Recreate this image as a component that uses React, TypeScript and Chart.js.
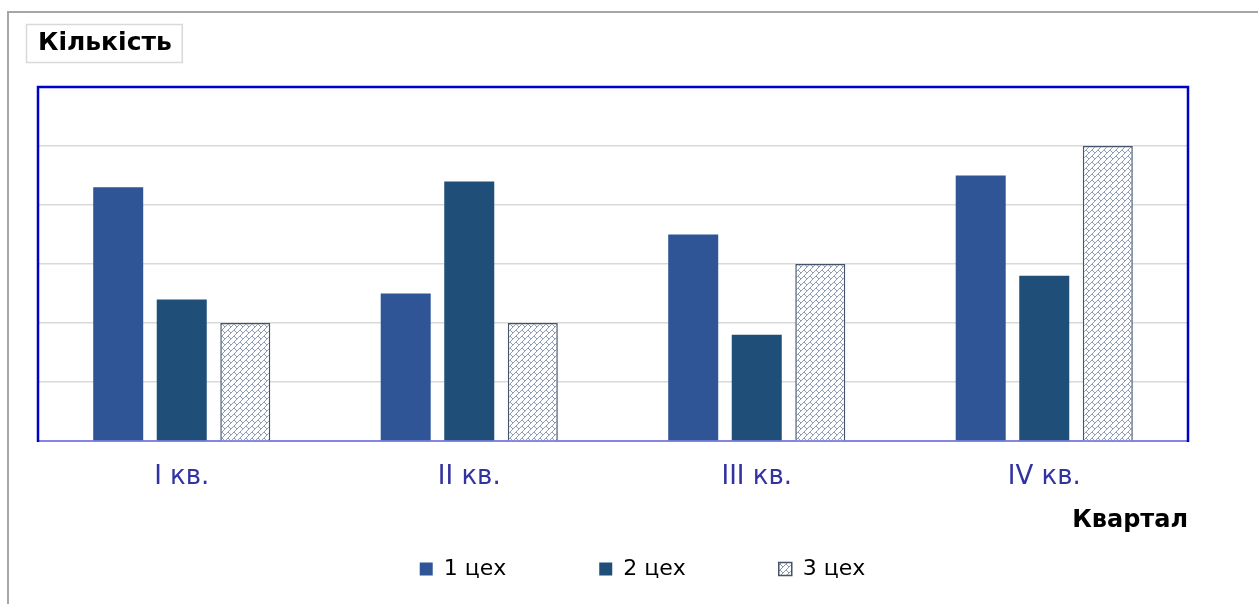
import React, { useEffect, useRef } from "react";
import { Chart, registerables } from "chart.js";

Chart.register(...registerables);

// ---- data ----
const categories = ["I кв.", "II кв.", "III кв.", "IV кв."];
const seriesNames = ["1 цех", "2 цех", "3 цех"];
const shop1 = [43, 25, 35, 45];
const shop2 = [24, 44, 18, 28];
const shop3 = [20, 20, 30, 50];
const yMin = 0;
const yMax = 60;
const yStep = 10;
const chartTitle = "Кількість";
const xAxisTitle = "Квартал";

// ---- styles ----
const FONT = '"DejaVu Sans", "Liberation Sans", Arial, sans-serif';
const color1 = "#2F5597";
const color2 = "#1F4E79";
const patternLine = "#8E9DB4";
const patternBorder = "#44546A";

function makeBrickPattern(): CanvasPattern | string {
  const n = 6;
  const c = document.createElement("canvas");
  c.width = n;
  c.height = n;
  const g = c.getContext("2d");
  if (!g) return "#ffffff";
  g.fillStyle = "#ffffff";
  g.fillRect(0, 0, n, n);
  g.fillStyle = patternLine;
  // "/" diagonal
  for (let i = 0; i < n; i++) g.fillRect(i, n - 1 - i, 1, 1);
  // "\" short joint (brick staggering)
  for (let i = 0; i < 3; i++) g.fillRect(i, i, 1, 1);
  return g.createPattern(c, "repeat") || "#ffffff";
}

const TITLE_SIZE = 25;
const TITLE_PAD_TOP = 28;
const TITLE_PAD_BOTTOM = 29;

const framePlugin = {
  id: "frameAndTitleBox",
  afterDatasetsDraw(chart: any) {
    const { ctx, chartArea: a } = chart;
    ctx.save();
    ctx.strokeStyle = "#0000CC";
    ctx.lineWidth = 2.5;
    ctx.beginPath();
    ctx.moveTo(a.left, a.bottom + 1);
    ctx.lineTo(a.left, a.top);
    ctx.lineTo(a.right, a.top);
    ctx.lineTo(a.right, a.bottom + 1);
    ctx.stroke();
    ctx.restore();
  },
  afterDraw(chart: any) {
    const t = chart.titleBlock;
    if (!t) return;
    const { ctx } = chart;
    ctx.save();
    ctx.font = `bold ${TITLE_SIZE}px ${FONT}`;
    const w = ctx.measureText(chartTitle).width;
    const cy = t.top + TITLE_PAD_TOP + (TITLE_SIZE * 1.2) / 2;
    ctx.strokeStyle = "#D9D9D9";
    ctx.lineWidth = 1.5;
    ctx.strokeRect(t.left - 11.5, cy - 18.5, w + 22, 38);
    ctx.restore();
  },
};

export default function App() {
  const canvasRef = useRef<HTMLCanvasElement | null>(null);

  useEffect(() => {
    const canvas = canvasRef.current;
    if (!canvas) return;
    const pattern = makeBrickPattern();
    const common = { barPercentage: 0.787, categoryPercentage: 0.663 };
    const chart = new Chart(canvas, {
      type: "bar",
      data: {
        labels: categories,
        datasets: [
          { label: seriesNames[0], data: shop1, backgroundColor: color1, borderWidth: 0, ...common },
          { label: seriesNames[1], data: shop2, backgroundColor: color2, borderWidth: 0, ...common },
          {
            label: seriesNames[2],
            data: shop3,
            backgroundColor: pattern as any,
            borderColor: patternBorder,
            borderWidth: 1.5,
            ...common,
          },
        ],
      },
      options: {
        animation: false,
        responsive: true,
        maintainAspectRatio: false,
        layout: { padding: { left: 38, right: 11, top: 0, bottom: 14 } },
        plugins: {
          title: {
            display: true,
            text: chartTitle,
            align: "start",
            color: "#000000",
            font: { family: FONT, size: TITLE_SIZE, weight: "bold" },
            padding: { top: TITLE_PAD_TOP, bottom: TITLE_PAD_BOTTOM },
          },
          legend: {
            display: true,
            position: "bottom",
            align: "center",
            labels: {
              color: "#000000",
              font: { family: FONT, size: 22 },
              boxWidth: 13,
              boxHeight: 13,
              padding: 93,
            },
          },
          tooltip: { enabled: false },
        },
        scales: {
          x: {
            grid: { display: false, drawTicks: false },
            border: { display: true, color: "#8585E6", width: 2 },
            ticks: {
              color: "#33339F",
              font: { family: FONT, size: 26 },
              mirror: true,
              padding: -51.6,
            },
            title: {
              display: true,
              text: xAxisTitle,
              align: "end",
              color: "#000000",
              font: { family: FONT, size: 24, weight: "bold" },
              padding: { top: 0, bottom: -70 },
            },
            afterFit: (s: any) => {
              s.height = 24;
            },
          },
          y: {
            min: yMin,
            max: yMax,
            ticks: { display: false, stepSize: yStep },
            grid: { color: "#D9D9D9", lineWidth: 1.5, drawTicks: false },
            border: { display: false },
            afterFit: (s: any) => {
              s.width = 0;
            },
          },
          y2: {
            type: "linear",
            position: "right",
            display: true,
            ticks: { display: false },
            grid: { display: false, drawTicks: false },
            border: { display: false },
            afterFit: (s: any) => {
              s.width = 59;
            },
          },
        },
      },
      plugins: [framePlugin],
    } as any);
    return () => chart.destroy();
  }, []);

  return (
    <div
      style={{
        position: "fixed",
        left: 0,
        top: 0,
        width: 1258,
        height: 604,
        overflow: "hidden",
        background: "#ffffff",
      }}
    >
      <canvas ref={canvasRef} style={{ width: "100%", height: "100%" }} />
      <div
        style={{
          position: "absolute",
          left: 7,
          top: 11,
          width: 1300,
          height: 700,
          border: "2px solid #A6A6A6",
          pointerEvents: "none",
        }}
      />
    </div>
  );
}
